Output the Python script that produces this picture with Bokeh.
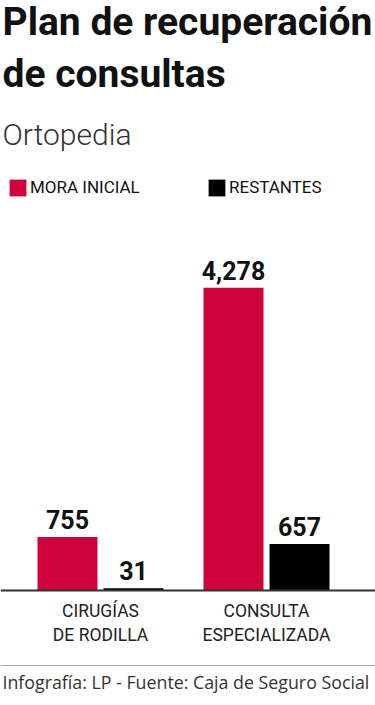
from bokeh.plotting import figure
from bokeh.models import ColumnDataSource, Range1d, Label, Span, Legend, LegendItem
from bokeh.transform import dodge
from bokeh.core.properties import value
from bokeh.embed import file_html
from bokeh.resources import INLINE

# ---- data ----
title_lines = ["Plan de recuperación", "de consultas"]
subtitle = "Ortopedia"
categories = ["CIRUGÍAS\nDE RODILLA", "CONSULTA\nESPECIALIZADA"]
series_names = ["MORA INICIAL", "RESTANTES"]
mora_inicial = [755, 4278]
restantes = [31, 657]
source_text = "Infografía: LP - Fuente: Caja de Seguro Social"

# ---- style ----
W, H = 375, 705
RED = "#D0023C"
BLACK = "#000000"
BOLD = "Roboto"
LIGHT = "Roboto Light"
REG = "Roboto"
FOOT = "Open Sans"
K = 0.42  # empirical baseline correction (fraction of font size)

x_idx = list(range(len(categories)))
src = ColumnDataSource(data=dict(
    x=x_idx,
    mora=mora_inicial,
    rest=restantes,
    mora_txt=[f"{v:,}" for v in mora_inicial],
    rest_txt=[f"{v:,}" for v in restantes],
))

p = figure(width=W, height=H,
           x_range=Range1d(-0.6024, 1.6566),
           y_range=Range1d(-1625.3, 8338.5),
           x_axis_location=None, y_axis_location=None,
           toolbar_location=None, output_backend="svg",
           min_border=0, outline_line_color=None,
           background_fill_color="white", border_fill_color="white")
p.xgrid.visible = False
p.ygrid.visible = False

off = 0.1988
bw = 0.3614
r1 = p.vbar(x=dodge("x", -off, range=p.x_range), top="mora", bottom=0, width=bw,
            source=src, fill_color=RED, line_color=None)
r2 = p.vbar(x=dodge("x", off, range=p.x_range), top="rest", bottom=0, width=bw,
            source=src, fill_color=BLACK, line_color=None)

# value labels
VSIZE = 25
for col, txt, o in (("mora", "mora_txt", -off), ("rest", "rest_txt", off)):
    p.text(x=dodge("x", o, range=p.x_range), y=col, text=txt, source=src,
           text_font=value(BOLD), text_font_style="bold", text_font_size=f"{VSIZE}px",
           text_color="#111111", text_align="center", text_baseline="alphabetic",
           y_offset=-7 - K * VSIZE)

# baseline
p.add_layout(Span(location=0, dimension="width", line_color="#333333", line_width=2))


def label(x, base, text, font, size, color, style="normal", align="left", x_units="screen"):
    p.add_layout(Label(x=x, y=H - base + K * size, x_units=x_units, y_units="screen",
                       text=text, text_font=font, text_font_size=f"{size}px",
                       text_font_style=style, text_color=color, text_align=align,
                       text_baseline="alphabetic"))


# category labels
line_base = [618, 642]
for i, cat in enumerate(categories):
    for j, line in enumerate(cat.split("\n")):
        label(i, line_base[j], line, REG, 17.5, "#222222", align="center", x_units="data")

# title / subtitle
title_base = [38, 90]
for j, t in enumerate(title_lines):
    label(2, title_base[j], t, BOLD, 39, "#111111", style="bold")
label(2, 147, subtitle, LIGHT, 30, "#333333")

# legend (two single-item legends)
leg_pos = [(7, 28), (206, 227)]
for (gx, tx), name, r in zip(leg_pos, series_names, (r1, r2)):
    leg = Legend(items=[LegendItem(label=name, renderers=[r])],
                 location=(gx, H - 197.5), orientation="horizontal",
                 padding=0, margin=0, border_line_color=None,
                 background_fill_alpha=0, glyph_width=21, glyph_height=21,
                 label_height=21, label_standoff=max(tx - gx - 21, 0) + 2,
                 label_text_font=REG, label_text_font_size="17px",
                 label_text_color="#111111")
    p.add_layout(leg)

# footer
p.add_layout(Span(location=H - 665, location_units="screen", dimension="width",
                  line_color="#AAAAAA", line_width=1))
label(2, 689, source_text, FOOT, 17.8, "#333333")

open("out.html", "w").write(file_html(p, INLINE))
